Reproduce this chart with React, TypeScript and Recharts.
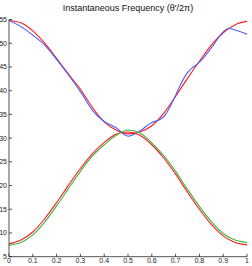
import { LineChart, Line, XAxis, YAxis } from "recharts"

// shared x grid for the smooth curves
const xGrid = [0, 0.05, 0.1, 0.15, 0.2, 0.25, 0.3, 0.35, 0.4, 0.45, 0.5, 0.55, 0.6, 0.65, 0.7, 0.75, 0.8, 0.85, 0.9, 0.95, 1]

const redUpper = [54.8, 54.3, 52.6, 50.0, 46.8, 43.5, 40.3, 36.5, 33.4, 31.7, 30.9, 31.3, 32.6, 35.2, 38.8, 42.6, 46.2, 49.6, 52.2, 53.9, 54.6]
const redLower = [7.7, 8.5, 10.2, 13.0, 16.4, 20.1, 23.6, 26.7, 29.1, 30.8, 31.3, 30.6, 28.6, 25.8, 22.4, 18.6, 15.0, 11.8, 9.4, 8.0, 7.5]
const greenLower = [7.4, 8.0, 9.6, 12.3, 15.7, 19.4, 23.0, 26.2, 28.6, 30.6, 31.7, 31.1, 29.0, 26.3, 23.0, 19.2, 15.6, 12.4, 9.9, 8.5, 8.0]

// blue estimate is wigglier, so it gets its own x points
const blueX = [0, 0.05, 0.1, 0.15, 0.2, 0.25, 0.3, 0.35, 0.4, 0.45, 0.5, 0.55, 0.6, 0.63, 0.65, 0.7, 0.72, 0.75, 0.78, 0.8, 0.85, 0.9, 0.92, 0.95, 1]
const blueUpper = [54.8, 53.5, 51.7, 49.6, 46.6, 43.3, 39.8, 35.9, 33.5, 32.2, 30.4, 31.5, 33.3, 33.8, 34.5, 39.0, 41.2, 43.8, 45.2, 46.0, 49.0, 52.4, 53.1, 52.8, 51.9]

const xTicks = [0, 0.1, 0.2, 0.3, 0.4, 0.5, 0.6, 0.7, 0.8, 0.9, 1]
const xTickLabels = ["0", "0.1", "0.2", "0.3", "0.4", "0.5", "0.6", "0.7", "0.8", "0.9", "1"]
const yTicks = [5, 10, 15, 20, 25, 30, 35, 40, 45, 50, 55]

const toPoints = (xs: number[], ys: number[]) => xs.map((x, i) => ({ x, y: ys[i] }))

const FONT = "'Liberation Sans', Arial, sans-serif"
const AXIS = "#262626"

function BottomTick({ x, y, payload }: any) {
  const i = xTicks.indexOf(payload.value)
  return (
    <g>
      <line x1={x} x2={x} y1={y - 1} y2={y - 4} stroke={AXIS} strokeWidth={0.8} />
      <text x={x} y={y + 5.5} textAnchor="middle" fontSize={7} fontFamily={FONT} fill="#222">
        {xTickLabels[i] ?? payload.value}
      </text>
    </g>
  )
}

function LeftTick({ x, y, payload }: any) {
  return (
    <g>
      <line x1={x + 2} x2={x + 5} y1={y} y2={y} stroke={AXIS} strokeWidth={0.8} />
      <text x={x} y={y + 2.5} textAnchor="end" fontSize={7} fontFamily={FONT} fill="#222">
        {payload.value}
      </text>
    </g>
  )
}

function TopTick({ x, y }: any) {
  return <line x1={x} x2={x} y1={y + 1} y2={y + 4} stroke={AXIS} strokeWidth={0.8} />
}

function RightTick({ x, y }: any) {
  return <line x1={x - 1} x2={x - 4} y1={y} y2={y} stroke={AXIS} strokeWidth={0.8} />
}

export default function App() {
  return (
    <div style={{ position: "absolute", left: 0, top: 0, width: 252, height: 266, background: "#fff" }}>
      <div
        style={{
          position: "absolute",
          left: 9,
          width: 238,
          top: 3,
          textAlign: "center",
          fontFamily: FONT,
          fontSize: 9,
          color: "#111",
        }}
      >
        Instantaneous Frequency (θ'/2π)
      </div>
      <LineChart width={252} height={266} margin={{ top: 19.5, right: 5, bottom: 0, left: 0 }}>
        <XAxis
          xAxisId="b"
          type="number"
          dataKey="x"
          domain={[0, 1]}
          ticks={xTicks}
          interval={0}
          height={9.3}
          tickSize={0}
          tickMargin={1}
          tick={<BottomTick />}
          axisLine={{ stroke: AXIS, strokeWidth: 0.8 }}
          allowDataOverflow
        />
        <XAxis
          xAxisId="t"
          orientation="top"
          type="number"
          dataKey="x"
          domain={[0, 1]}
          ticks={xTicks}
          interval={0}
          height={0}
          tickSize={0}
          tickMargin={0}
          tick={<TopTick />}
          axisLine={{ stroke: AXIS, strokeWidth: 0.8 }}
        />
        <YAxis
          yAxisId="l"
          type="number"
          domain={[5, 55]}
          ticks={yTicks}
          interval={0}
          width={9}
          tickSize={0}
          tickMargin={2}
          tick={<LeftTick />}
          axisLine={{ stroke: AXIS, strokeWidth: 0.8 }}
          allowDataOverflow
        />
        <YAxis
          yAxisId="r"
          orientation="right"
          type="number"
          domain={[5, 55]}
          ticks={yTicks}
          interval={0}
          width={0}
          tickSize={0}
          tickMargin={0}
          tick={<RightTick />}
          axisLine={{ stroke: AXIS, strokeWidth: 0.8 }}
        />
        <Line
          xAxisId="b"
          yAxisId="l"
          data={toPoints(xGrid, redUpper)}
          dataKey="y"
          type="monotone"
          stroke="#ff1a1a"
          strokeWidth={1.1}
          dot={false}
          isAnimationActive={false}
        />
        <Line
          xAxisId="b"
          yAxisId="l"
          data={toPoints(blueX, blueUpper)}
          dataKey="y"
          type="monotone"
          stroke="#4a5cff"
          strokeWidth={1.1}
          dot={false}
          isAnimationActive={false}
        />
        <Line
          xAxisId="b"
          yAxisId="l"
          data={toPoints(xGrid, redLower)}
          dataKey="y"
          type="monotone"
          stroke="#ff1a1a"
          strokeWidth={1.1}
          dot={false}
          isAnimationActive={false}
        />
        <Line
          xAxisId="b"
          yAxisId="l"
          data={toPoints(xGrid, greenLower)}
          dataKey="y"
          type="monotone"
          stroke="#3cb43c"
          strokeWidth={1.1}
          dot={false}
          isAnimationActive={false}
        />
      </LineChart>
    </div>
  )
}
